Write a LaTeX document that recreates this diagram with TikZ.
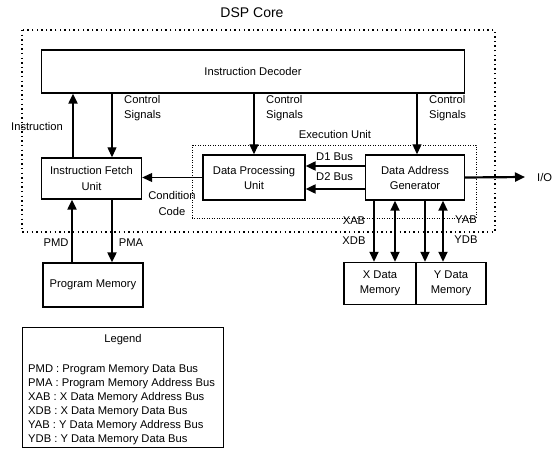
\documentclass[tikz,border=0pt]{standalone}
\usepackage{fontspec}
\setmainfont{Liberation Sans}
\usepackage{tikz}
\usetikzlibrary{arrows.meta,positioning,calc}

\tikzset{
  unit/.style={draw, line width=1.4pt, align=center, inner sep=0pt, font=\fontsize{11.2}{15}\selectfont},
  lbl/.style={align=left, inner sep=0pt, font=\fontsize{11.2}{15}\selectfont},
  bus/.style={->, line width=2.2pt},
  membus/.style={line width=1.8pt},
  sig/.style={->, line width=1.1pt},
  coreframe/.style={line width=1.6pt, dash pattern=on 1.4pt off 3.2pt},
  execframe/.style={line width=0.8pt, dash pattern=on 0.9pt off 1.6pt}
}

\begin{document}
\begin{tikzpicture}[x=1pt, y=-1pt, >={Triangle[length=10pt,width=9pt]}]
\useasboundingbox (0,0) rectangle (554,454);

  % Frames
\draw[coreframe] (22,30) rectangle (495,232); \draw[execframe] (192,145) rectangle (476,218);

  % Define coordinates for nodes
\node[lbl, font=\fontsize{14}{16}\selectfont] (title) at (252,13) {DSP Core};
\node[unit, minimum width=423pt, minimum height=43pt] (dec) at (253,71.5) {Instruction Decoder};
\node[unit, minimum width=100pt, minimum height=41pt, font=\fontsize{11.2}{16}\selectfont] (ifu) at (91.5,178.5) {Instruction Fetch\\Unit};
\node[unit, minimum width=102pt, minimum height=45pt] (dpu) at (254,177.5) {Data Processing\\Unit};
\node[unit, minimum width=99pt, minimum height=45pt] (dag) at (415,177.5) {Data Address\\Generator};
\node[unit, minimum width=100pt, minimum height=44pt] (pm) at (93,285) {Program Memory};
\node[unit, minimum width=72pt, minimum height=42pt, font=\fontsize{11.2}{14.5}\selectfont] (xmem) at (380,283.5) {X Data\\Memory};
\node[unit, minimum width=70pt, minimum height=42pt, font=\fontsize{11.2}{14.5}\selectfont] (ymem) at (451,283.5) {Y Data\\Memory};
\node[lbl, anchor=west] (io) at (537,177) {I/O};

  % Labels
\node[lbl] (instrlbl) at (37,126) {Instruction}; \node[lbl, anchor=west] (cs1) at (124,108) {Control\\Signals}; \node[lbl, anchor=west] (cs2) at (266,108) {Control\\Signals}; \node[lbl, anchor=west] (cs3) at (429,108) {Control\\Signals};
\node[lbl] (execlbl) at (335,134) {Execution Unit}; \node[lbl, anchor=west] (d1lbl) at (316,157) {D1 Bus}; \node[lbl, anchor=west] (d2lbl) at (316,177) {D2 Bus};
\node[lbl, align=center, font=\fontsize{11.2}{16}\selectfont] (cclbl) at (172,203) {Condition\\Code};
\node[lbl] (xablbl) at (354,221) {XAB}; \node[lbl] (xdblbl) at (354,241) {XDB}; \node[lbl] (yablbl) at (466,220) {YAB}; \node[lbl] (ydblbl) at (466,240) {YDB};
\node[lbl] (pmdlbl) at (56,243) {PMD}; \node[lbl] (pmalbl) at (131,243) {PMA};

  % Legend
\node[draw, line width=0.8pt, minimum width=201pt, minimum height=120pt, inner sep=0pt] (legend) at (122.5,387) {};
\node[lbl] (legtitle) at (123,340) {Legend};
\node[lbl, anchor=west, font=\fontsize{11.2}{14}\selectfont] (legtext) at (28,405) {PMD : Program Memory Data Bus\\PMA : Program Memory Address Bus\\XAB : X Data Memory Address Bus\\XDB : X Data Memory Data Bus\\YAB : Y Data Memory Address Bus\\YDB : Y Data Memory Data Bus};

  % Draw arrows between nodes
\draw[bus] ([xshift=-18.5pt]ifu.north) -- ([xshift=-18.5pt]ifu.north |- dec.south); \draw[sig] ([xshift=20.5pt]ifu.north |- dec.south) -- ([xshift=20.5pt]ifu.north);
\draw[sig] (dec.south -| dpu.north) -- (dpu.north); \draw[sig] ([xshift=2pt]dec.south -| dag.north) -- ([xshift=2pt]dag.north);
\draw[bus] ([yshift=11.5pt]dag.west) -- ([yshift=11.5pt]dag.west -| dpu.east); \draw[bus] ([yshift=-11.5pt]dag.west) -- ([yshift=-11.5pt]dag.west -| dpu.east);
\draw[sig] (dpu.west) -- (dpu.west -| ifu.east); \draw[bus] (dag.east) -- ([xshift=-12pt]io.west);
\draw[bus] ([xshift=-21pt]pm.north) -- ([xshift=-21pt]pm.north |- ifu.south); \draw[bus] ([xshift=19pt]pm.north |- ifu.south) -- ([xshift=19pt]pm.north);
\draw[membus, ->] ([xshift=-41pt]dag.south) -- ([xshift=-41pt]dag.south |- xmem.north); \draw[membus, <->] ([xshift=-20pt]dag.south) -- ([xshift=-20pt]dag.south |- xmem.north);
\draw[membus, ->] ([xshift=10pt]dag.south) -- ([xshift=10pt]dag.south |- ymem.north); \draw[membus, <->] ([xshift=28pt]dag.south) -- ([xshift=28pt]dag.south |- ymem.north);

\end{tikzpicture}
\end{document}
